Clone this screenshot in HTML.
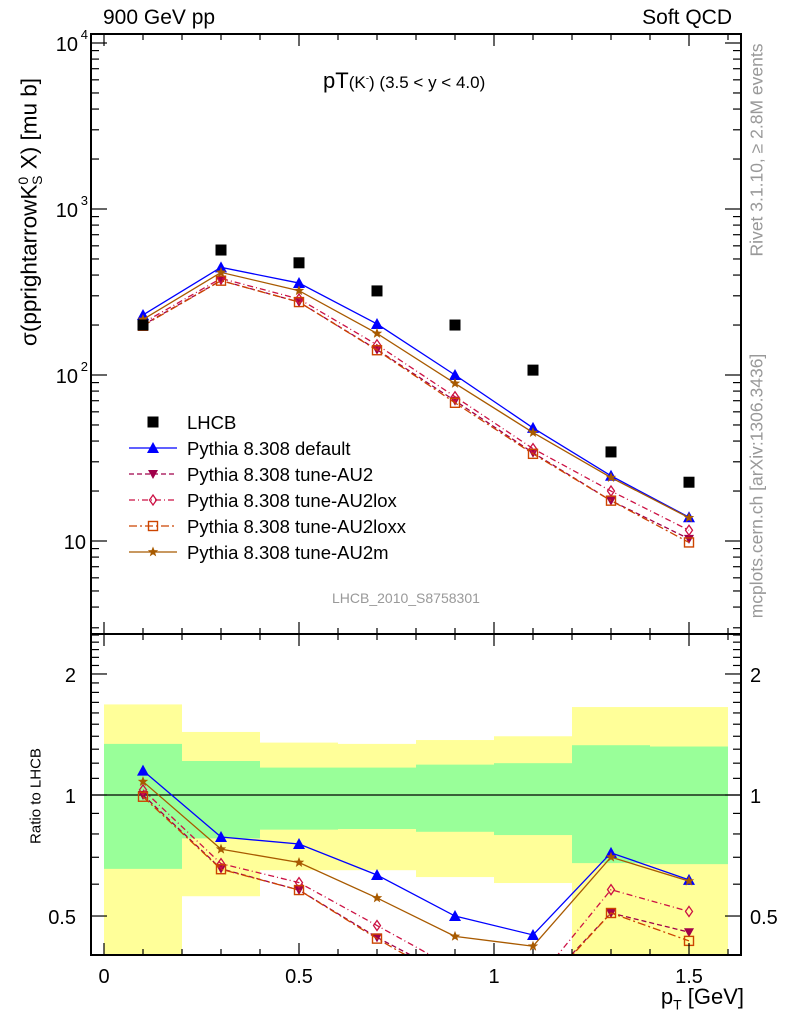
<!DOCTYPE html>
<html><head><meta charset="utf-8"><style>
body{margin:0;background:#fff}
svg{display:block;font-family:"Liberation Sans",sans-serif}
</style></head><body>
<svg id="chart" width="786" height="1024" viewBox="0 0 786 1024"></svg>
<script>
const xCenters=[0.1,0.3,0.5,0.7,0.9,1.1,1.3,1.5];
const binEdges=[0,0.2,0.4,0.6,0.8,1.0,1.2,1.4,1.6];
const lhcb=[200,566,474,321,200,107,34.4,22.6];
const pyDefault=[230,445,358,203,100,48,24.7,13.9];
const pyAU2=[200,371,275,142,70,34,17.5,10.3];
const pyAU2lox=[206,382,287,152,74,36,20,11.6];
const pyAU2loxx=[198,370,275,141,68,33.5,17.5,9.8];
const pyAU2m=[216,415,322,178,89,45,24.1,13.8];
const band1Up=[1.34,1.215,1.17,1.17,1.19,1.20,1.33,1.32];
const band1Dn=[0.655,0.78,0.82,0.823,0.81,0.795,0.677,0.673];
const band2Up=[1.68,1.435,1.35,1.34,1.37,1.40,1.655,1.655];
const band2Dn=[0.35,0.56,0.65,0.65,0.625,0.604,0.35,0.35];
const xTicks=[0,0.5,1,1.5];
const xTickLabels=["0","0.5","1","1.5"];

const NS="http://www.w3.org/2000/svg";
const svg=document.getElementById('chart');
function el(tag,attrs,parent){const e=document.createElementNS(NS,tag);for(const k in attrs)e.setAttribute(k,attrs[k]);(parent||svg).appendChild(e);return e;}
const L=91,R=741,T=34,M=634,B=955;
const X=v=>104+v*390;
const Ym=v=>541-(Math.log10(v)-1)*166;
const Yr=v=>795-Math.log10(v)*402;

const defs=el('defs',{});
const c1=el('clipPath',{id:'cm'},defs);el('rect',{x:L,y:T,width:R-L,height:M-T},c1);
const c2=el('clipPath',{id:'cr'},defs);el('rect',{x:L,y:M,width:R-L,height:B-M},c2);

const gBands=el('g',{'clip-path':'url(#cr)'});


for(let i=0;i<xCenters.length;i++){
  const x0=X(binEdges[i]),x1=X(binEdges[i+1]);
  const y=el('rect',{x:x0,y:Yr(band2Up[i]),width:x1-x0,height:Yr(band2Dn[i])-Yr(band2Up[i]),fill:'#ffff99'},gBands);
  
  
  const g=el('rect',{x:x0,y:Yr(band1Up[i]),width:x1-x0,height:Yr(band1Dn[i])-Yr(band1Up[i]),fill:'#99ff99'},gBands);
  
  
}
el('line',{x1:L,x2:R,y1:Yr(1),y2:Yr(1),stroke:'#000','stroke-width':1.2});

const series=[
 {name:'Pythia 8.308 default',d:pyDefault,c:'#0000ff',dash:'',m:'tri'},
 {name:'Pythia 8.308 tune-AU2',d:pyAU2,c:'#a0004a',dash:'5,3',m:'dtri'},
 {name:'Pythia 8.308 tune-AU2lox',d:pyAU2lox,c:'#cc1144',dash:'6,3,1,3',m:'diam'},
 {name:'Pythia 8.308 tune-AU2loxx',d:pyAU2loxx,c:'#cc4400',dash:'8,3,2,3',m:'sq'},
 {name:'Pythia 8.308 tune-AU2m',d:pyAU2m,c:'#a85a00',dash:'',m:'star'}
];
function marker(type,x,y,c,parent){
  let e;
  if(type==='tri')e=el('polygon',{points:`${x},${y-6} ${x-6},${y+5} ${x+6},${y+5}`,fill:c},parent);
  else if(type==='dtri')e=el('polygon',{points:`${x},${y+5} ${x-5},${y-4} ${x+5},${y-4}`,fill:c},parent);
  else if(type==='diam')e=el('polygon',{points:`${x},${y-5} ${x+3.5},${y} ${x},${y+5} ${x-3.5},${y}`,fill:'none',stroke:c,'stroke-width':1.3},parent);
  else if(type==='sq')e=el('rect',{x:x-4.5,y:y-4.5,width:9,height:9,fill:'none',stroke:c,'stroke-width':1.4},parent);
  else if(type==='star'){let p=[];for(let k=0;k<10;k++){const r=k%2?2.3:5.5,a=-Math.PI/2+k*Math.PI/5;p.push((x+r*Math.cos(a)).toFixed(1)+','+(y+r*Math.sin(a)).toFixed(1));}e=el('polygon',{points:p.join(' '),fill:c},parent);}
  else if(type==='fsq')e=el('rect',{x:x-5.5,y:y-5.5,width:11,height:11,fill:c},parent);
  
  
}
series.forEach(s=>{
  const gm=el('g',{'clip-path':'url(#cm)'});
  
  
  el('polyline',{points:xCenters.map((x,i)=>X(x)+','+Ym(s.d[i])).join(' '),fill:'none',stroke:s.c,'stroke-width':1.3,'stroke-dasharray':s.dash},gm);
  xCenters.forEach((x,i)=>marker(s.m,X(x),Ym(s.d[i]),s.c,gm));
  const gr=el('g',{'clip-path':'url(#cr)'});
  
  
  el('polyline',{points:xCenters.map((x,i)=>X(x)+','+Yr(s.d[i]/lhcb[i])).join(' '),fill:'none',stroke:s.c,'stroke-width':1.3,'stroke-dasharray':s.dash},gr);
  xCenters.forEach((x,i)=>marker(s.m,X(x),Yr(s.d[i]/lhcb[i]),s.c,gr));
});
const gd=el('g',{});


xCenters.forEach((x,i)=>marker('fsq',X(x),Ym(lhcb[i]),'#000',gd));

el('rect',{x:L,y:T,width:R-L,height:M-T,fill:'none',stroke:'#000','stroke-width':2});
el('rect',{x:L,y:M,width:R-L,height:B-M,fill:'none',stroke:'#000','stroke-width':2});

for(let k=0;k<=16;k++){const v=k/10,x=X(v),len=k%5===0?12:6;
  [[T,1],[M,-1],[M,1],[B,-1]].forEach(([y,d])=>el('line',{x1:x,x2:x,y1:y,y2:y+d*len,stroke:'#000','stroke-width':1.2}));}
xTicks.forEach((v,i)=>{const t=el('text',{x:X(v),y:983,'font-size':20,'text-anchor':'middle'});t.textContent=xTickLabels[i];
  });
for(let d=0;d<=4;d++)for(let m=1;m<=9;m++){const v=Math.pow(10,d)*m,y=Ym(v);if(y<T||y>M)continue;const len=m===1?16:8;
  el('line',{x1:L,x2:L+len,y1:y,y2:y,stroke:'#000','stroke-width':1.2});el('line',{x1:R,x2:R-len,y1:y,y2:y,stroke:'#000','stroke-width':1.2});}
[1,2,3,4].forEach(p=>{
  const t=el('text',{x:p===1?86:78,y:Ym(Math.pow(10,p))+8,'font-size':20,'text-anchor':'end'});
  t.textContent='10';
  
  if(p>1){const s=el('text',{x:88,y:Ym(Math.pow(10,p))-4,'font-size':13,'text-anchor':'end'});s.textContent=String(p);}
});
[0.4,0.5,0.6,0.7,0.8,0.9,1,2].forEach(v=>{const y=Yr(v),len=(v===0.5||v===1||v===2)?16:8;
  el('line',{x1:L,x2:L+len,y1:y,y2:y,stroke:'#000','stroke-width':1.2});el('line',{x1:R,x2:R-len,y1:y,y2:y,stroke:'#000','stroke-width':1.2});});
[1.1,1.2,1.3,1.4,1.5,1.6,1.7,1.8,1.9,2.1,2.2,2.3,2.4,2.5].forEach(v=>{const y=Yr(v);
  el('line',{x1:L,x2:L+8,y1:y,y2:y,stroke:'#000','stroke-width':1.2});el('line',{x1:R,x2:R-8,y1:y,y2:y,stroke:'#000','stroke-width':1.2});});
[[2,'2'],[1,'1'],[0.5,'0.5']].forEach(([v,s])=>{
  const a=el('text',{x:76,y:Yr(v)+8,'font-size':20,'text-anchor':'end'});a.textContent=s;
  
  const b=el('text',{x:750,y:Yr(v)+8,'font-size':20,'text-anchor':'start'});b.textContent=s;
  });

const lg=el('g',{});


marker('fsq',153,422,'#000',lg);
let t0=el('text',{x:187,y:429,'font-size':18.5},lg);t0.textContent='LHCB';
series.forEach((s,i)=>{const y=448+i*26;
  el('line',{x1:129,x2:177,y1:y,y2:y,stroke:s.c,'stroke-width':1.3,'stroke-dasharray':s.dash},lg);
  marker(s.m,153,y,s.c,lg);
  const t=el('text',{x:187,y:y+7,'font-size':18.5},lg);t.textContent=s.name;
  });
</script>
<div style="position:absolute;left:0;top:0;width:786px;height:1024px;pointer-events:none;font-family:'Liberation Sans',sans-serif">
<div style="position:absolute;left:103px;top:6px;font-size:21px">900 GeV pp</div>
<div style="position:absolute;right:54px;top:6px;font-size:21px">Soft QCD</div>
<div style="position:absolute;left:323px;top:68px;font-size:22px;white-space:nowrap">pT<span style="font-size:17px">(K<sup style="font-size:10px">-</sup>) (3.5 &lt; y &lt; 4.0)</span></div>
<div style="position:absolute;left:332px;top:590px;font-size:14px;color:#999">LHCB_2010_S8758301</div>
<div style="position:absolute;right:42px;top:984px;font-size:22px">p<sub style="font-size:14px">T</sub> [GeV]</div>
<div style="position:absolute;left:30px;top:212px;font-size:22.5px;transform:translate(-50%,-50%) rotate(-90deg);transform-origin:center;white-space:nowrap">σ(pprightarrowK<sup style="font-size:14px">0</sup><sub style="font-size:14px;margin-left:-8px">S</sub> X) [mu b]</div>
<div style="position:absolute;left:36px;top:796px;font-size:15px;transform:translate(-50%,-50%) rotate(-90deg);white-space:nowrap">Ratio to LHCB</div>
<div style="position:absolute;left:757px;top:150px;font-size:17.5px;color:#999;transform:translate(-50%,-50%) rotate(-90deg);white-space:nowrap">Rivet 3.1.10, ≥ 2.8M events</div>
<div style="position:absolute;left:757px;top:486px;font-size:17.5px;color:#999;transform:translate(-50%,-50%) rotate(-90deg);white-space:nowrap">mcplots.cern.ch [arXiv:1306.3436]</div>
</div>
</body></html>
